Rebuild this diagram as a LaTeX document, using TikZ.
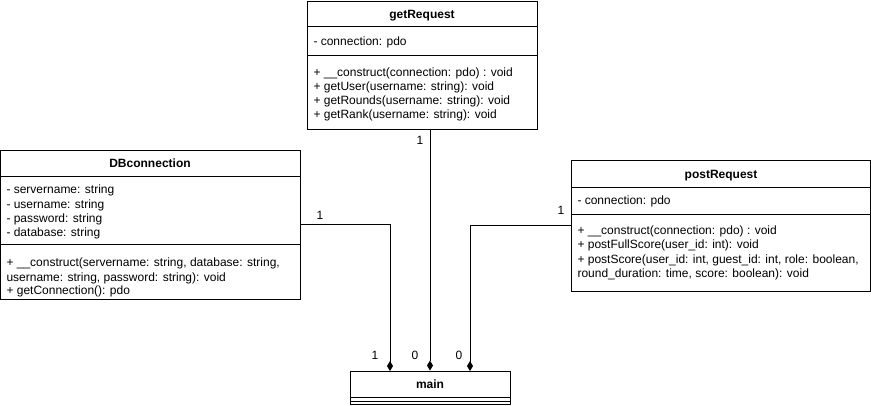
\documentclass[tikz,border=0pt]{standalone}
\usepackage{fontspec}
\setmainfont{Liberation Sans}
\usetikzlibrary{arrows.meta,fit}

\tikzset{
  classbox/.style={draw, line width=0.75pt, inner sep=0pt},
  member/.style={anchor=base west, inner sep=0pt, font=\fontsize{9}{11}\selectfont},
  classname/.style={anchor=base, inner sep=0pt, font=\bfseries\fontsize{9}{11}\selectfont},
  mult/.style={inner sep=0pt, font=\fontsize{9}{11}\selectfont},
  comp/.style={line width=0.75pt, -{Diamond[length=7.5pt,width=4.5pt]}},
}

\begin{document}
\begin{tikzpicture}[x=0.75pt,y=-0.75pt,line width=0.75pt]
\useasboundingbox (0,0) rectangle (871,405);

% getRequest
\node[classbox, fit={(307,1) (537,129)}] (getReq) {};
\draw (307,26) -- (537,26);
\draw (307,55) -- (537,55);
\node[classname] (getReq-name) at (422,18) {getRequest};
\node[member] (getReq-a1) at (313,45) {- connection: pdo};
\node[member] (getReq-m1) at (313,76) {+ \_\_construct(connection: pdo) : void};
\node[member] (getReq-m2) at (313,90) {+ getUser(username: string): void};
\node[member] (getReq-m3) at (313,104) {+ getRounds(username: string): void};
\node[member] (getReq-m4) at (313,118) {+ getRank(username: string): void};

% DBconnection
\node[classbox, fit={(0.5,150) (300,299)}] (dbConn) {};
\draw (0.5,176) -- (300,176);
\draw (0.5,244) -- (300,244);
\node[classname] (dbConn-name) at (150,167.5) {DBconnection};
\node[member] (dbConn-a1) at (6,193) {- servername: string};
\node[member] (dbConn-a2) at (6,208) {- username: string};
\node[member] (dbConn-a3) at (6,222) {- password: string};
\node[member] (dbConn-a4) at (6,236) {- database: string};
\node[member] (dbConn-m1) at (6,266) {+ \_\_construct(servername: string, database: string,};
\node[member] (dbConn-m2) at (6,281) {username: string, password: string): void};
\node[member] (dbConn-m3) at (6,294) {+ getConnection(): pdo};

% postRequest
\node[classbox, fit={(571,160) (870.5,291)}] (postReq) {};
\draw (571,187) -- (870.5,187);
\draw (571,214) -- (870.5,214);
\node[classname] (postReq-name) at (721,178) {postRequest};
\node[member] (postReq-a1) at (577,204) {- connection: pdo};
\node[member] (postReq-m1) at (577,234) {+ \_\_construct(connection: pdo) : void};
\node[member] (postReq-m2) at (577,248) {+ postFullScore(user\_id: int): void};
\node[member] (postReq-m3) at (577,263) {+ postScore(user\_id: int, guest\_id: int, role: boolean,};
\node[member] (postReq-m4) at (577,277) {round\_duration: time, score: boolean): void};

% main
\node[classbox, fit={(350,371) (510,404)}] (main) {};
\draw (350,397) -- (510,397);
\draw (350,401) -- (510,401);
\node[classname] (main-name) at (430,388.5) {main};

% composition
\coordinate (mainL) at (390,371);
\coordinate (mainR) at (470,371);
\draw[comp] (dbConn.east) -| (mainL);
\draw[comp] (getReq.south -| main.north) -- (main.north);
\draw[comp] (postReq.west) -| (mainR);

\node[mult] (dbConn-n) at (320,215) {1};
\node[mult] (dbConn-k) at (375,355) {1};
\node[mult] (getReq-n) at (420,140) {1};
\node[mult] (getReq-k) at (415,355) {0};
\node[mult] (postReq-n) at (561,210) {1};
\node[mult] (postReq-k) at (459,355) {0};

\end{tikzpicture}
\end{document}
